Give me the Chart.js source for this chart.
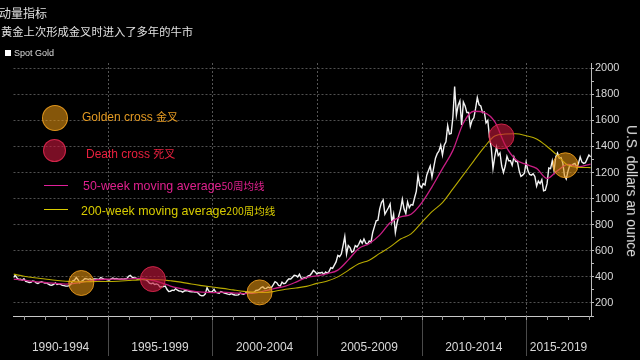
<!DOCTYPE html>
<html><head><meta charset="utf-8">
<script src="https://cdn.jsdelivr.net/npm/chart.js@4/dist/chart.umd.min.js"></script>
<style>
html,body{margin:0;padding:0;background:#000;}
#wrap{position:relative;width:640px;height:360px;overflow:hidden;background:#000;}
canvas{position:absolute;left:0;top:0;}
.t{position:absolute;white-space:nowrap;line-height:1;font-family:"Liberation Sans",Arial,sans-serif;}
.cjk{font-family:"Noto Sans CJK SC",sans-serif;}
.dot{position:absolute;border-radius:50%;box-sizing:border-box;}
.ln{position:absolute;height:0;width:24px;}
</style></head><body>
<div id="wrap">
<canvas id="c" width="640" height="360"></canvas>
<div class="t cjk" style="left:-1px;top:7px;font-size:12px;color:#e0e0e0">动量指标</div>
<div class="t cjk" style="left:1px;top:26px;font-size:11.3px;color:#e0e0e0">黄金上次形成金叉时进入了多年的牛市</div>
<div style="position:absolute;left:5px;top:50px;width:6px;height:6px;background:#fff"></div>
<div class="t" style="left:14px;top:49px;font-size:9px;color:#ddd">Spot Gold</div>

<div class="dot" style="left:41.5px;top:104.5px;width:26px;height:26px;background:rgba(230,148,18,0.58);border:1px solid rgba(240,160,30,0.85)"></div>
<div class="t" style="left:82px;top:111px;font-size:12px;color:#e49a22">Golden cross <span class="cjk" style="font-size:11px">金叉</span></div>
<div class="dot" style="left:42.5px;top:138.5px;width:23px;height:23px;background:rgba(195,22,60,0.62);border:1px solid rgba(225,40,80,0.85)"></div>
<div class="t" style="left:86px;top:148px;font-size:12px;color:#e8203e">Death cross <span class="cjk" style="font-size:11px">死叉</span></div>
<div class="ln" style="left:44px;top:185px;border-top:1px solid #e0209a"></div>
<div class="t" style="left:83px;top:180px;font-size:12.4px;color:#e0208e">50-week moving average<span class="cjk" style="font-size:10.5px">50周均线</span></div>
<div class="ln" style="left:44px;top:209px;border-top:1px solid #d8cc00"></div>
<div class="t" style="left:81px;top:204.5px;font-size:12.4px;color:#d8cc00">200-week moving average<span class="cjk" style="font-size:10.5px">200周均线</span></div>

<div class="t" style="left:631px;top:191px;font-size:13.8px;color:#e0e0e0;transform:translate(-50%,-50%) rotate(90deg)">U.S. dollars an ounce</div>
</div>
<script>
// ---- data ----
const priceStart = 1990.5;            // first monthly observation (Jul 1990)
const priceStep = 1 / 12;             // monthly
const spotGold = [
 395,412,392,380,382,375,
 385,365,362,357,358,368,366,354,350,358,362,358,
 352,354,344,338,336,342,354,342,346,343,335,333,
 329,329,333,345,370,375,395,378,355,366,375,387,
 385,381,386,375,384,385,383,380,395,389,383,381,
 377,376,384,391,384,387,384,382,384,383,386,387,
 405,412,397,392,391,384,385,386,381,380,377,368,
 352,348,352,342,346,340,322,324,325,330,305,288,
 290,298,296,310,298,292,291,283,292,295,293,288,
 286,287,283,285,275,260,255,256,270,318,292,283,
 287,305,283,278,274,287,281,276,272,268,265,272,
 265,261,260,262,275,270,266,274,287,280,275,278,
 283,296,297,304,318,323,310,312,322,316,320,340,
 363,355,334,330,360,348,352,372,385,383,397,413,
 410,400,420,390,388,395,392,408,412,428,450,438,
 422,432,430,435,418,437,428,442,470,465,490,515,
 565,555,575,640,710,575,640,625,590,598,640,630,
 650,680,658,690,660,650,675,665,740,785,830,835,
 920,970,990,880,905,930,960,820,880,740,815,870,
 920,995,920,885,975,930,955,950,1005,1055,1180,1100,
 1085,1115,1105,1180,1215,1250,1165,1240,1310,1345,1365,1410,
 1335,1410,1435,1560,1495,1500,1625,1860,1640,1715,1750,1565,
 1740,1710,1660,1660,1555,1600,1620,1690,1775,1720,1710,1660,
 1665,1580,1600,1470,1390,1230,1320,1395,1330,1350,1250,1200,
 1250,1325,1290,1290,1255,1320,1285,1285,1215,1170,1180,1195,
 1280,1215,1185,1180,1190,1170,1095,1135,1115,1145,1060,1065,
 1115,1235,1230,1290,1215,1320,1350,1310,1315,1275,1175,1150,
 1210,1255,1250,1265,1270,1240,1270,1320,1280,1270,1275,1305,
 1335,1320
];
const maDates = [1990.5,1991,1991.5,1992,1992.5,1993,1993.5,1994,1994.5,1995,1995.5,1996,1996.5,1997,1997.5,1998,1998.5,1999,1999.5,2000,2000.5,2001,2001.5,2002,2002.5,2003,2003.5,2004,2004.5,2005,2005.5,2006,2006.5,2007,2007.5,2008,2008.5,2009,2009.5,2010,2010.5,2011,2011.5,2012,2012.5,2013,2013.5,2014,2014.5,2015,2015.5,2016,2016.5,2017,2017.5,2018.08];
const ma50 = [383,375,364,357,350,345,352,366,378,382,383,384,388,378,358,330,310,292,283,280,283,278,272,275,292,312,330,360,395,408,425,452,530,618,655,720,815,860,880,965,1090,1230,1370,1580,1670,1660,1590,1410,1300,1262,1232,1155,1215,1262,1245,1265];
const ma200 = [421,405,393,384,374,367,362,363,365,365,367,372,377,380,378,370,360,345,333,322,312,300,289,283,280,290,305,315,327,350,368,400,450,500,528,580,630,690,730,815,900,970,1075,1182,1290,1395,1480,1495,1497,1482,1458,1400,1330,1255,1240,1238];
const crossDates  = [1993.74, 1997.16, 2002.26, 2013.82, 2016.88];
const crossValues = [353, 383, 281, 1477, 1256];
const crossKinds  = ['golden','death','golden','death','golden'];
const periodStarts = [1990, 1995, 2000, 2005, 2010, 2015];
const periodLabels = ['1990-1994','1995-1999','2000-2004','2005-2009','2010-2014','2015-2019'];
const yTickValues = [100,200,300,400,500,600,700,800,900,1000,1100,1200,1300,1400,1500,1600,1700,1800,1900,2000];
const yLabelled = [200,400,600,800,1000,1200,1400,1600,1800,2000];
const xMin = 1990.5, xMax = 2018.1, yMin = 100, yMax = 2040;

// ---- build ----
const pricePts = spotGold.map((v,i)=>({x: priceStart + i*priceStep, y: v}));
const ma50Pts = maDates.map((d,i)=>({x:d, y:ma50[i]}));
const ma200Pts = maDates.map((d,i)=>({x:d, y:ma200[i]}));
const crossPts = crossDates.map((d,i)=>({x:d, y:crossValues[i]}));
const crossFill = {golden:'rgba(230,148,18,0.58)', death:'rgba(195,22,60,0.62)'};
const crossLine = {golden:'rgba(240,160,30,0.85)', death:'rgba(225,40,80,0.85)'};
const labelCenters = periodStarts.map(s => (Math.max(s, xMin) + Math.min(s+5, xMax)) / 2);

const xDecor = {
  id:'xDecor',
  beforeDatasetsDraw(chart){
    const {ctx, chartArea:a, scales:{x}} = chart;
    ctx.save();
    ctx.strokeStyle = '#555'; ctx.lineWidth = 1; ctx.setLineDash([2,2]);
    periodStarts.forEach(s=>{
      if (s <= xMin) return;
      const px = Math.round(x.getPixelForValue(s)) + 0.5;
      ctx.beginPath(); ctx.moveTo(px, a.top); ctx.lineTo(px, a.bottom); ctx.stroke();
    });
    ctx.restore();
  },
  afterDraw(chart){
    const {ctx, chartArea:a, scales:{x}} = chart;
    ctx.save();
    ctx.lineWidth = 1;
    ctx.strokeStyle = '#4a4a4a';
    periodStarts.forEach(s=>{
      if (s <= xMin) return;
      const px = Math.round(x.getPixelForValue(s)) + 0.5;
      ctx.beginPath(); ctx.moveTo(px, a.bottom + 2); ctx.lineTo(px, 356); ctx.stroke();
    });
    ctx.strokeStyle = '#999';
    for (let yr = Math.ceil(xMin); yr <= xMax; yr++) {
      const px = Math.round(x.getPixelForValue(yr)) + 0.5;
      ctx.beginPath(); ctx.moveTo(px, a.bottom); ctx.lineTo(px, a.bottom + 4); ctx.stroke();
    }
    ctx.restore();
  }
};

new Chart(document.getElementById('c').getContext('2d'), {
  type:'line',
  data:{ datasets:[
    {label:'Crosses', type:'scatter', data:crossPts, order:0,
     pointRadius:12.5, pointHoverRadius:12.5, pointBorderWidth:1,
     backgroundColor: crossKinds.map(k=>crossFill[k]), borderColor: crossKinds.map(k=>crossLine[k])},
    {label:'200-week', data:ma200Pts, order:1, borderColor:'#b8aa00', borderWidth:1.1, pointRadius:0, cubicInterpolationMode:'monotone', fill:false},
    {label:'50-week', data:ma50Pts, order:2, borderColor:'#c81e84', borderWidth:1.3, pointRadius:0, cubicInterpolationMode:'monotone', fill:false},
    {label:'Spot Gold', data:pricePts, order:3, borderColor:'#f2f2f2', borderWidth:1.4, pointRadius:0, tension:0, fill:false}
  ]},
  options:{
    responsive:false, animation:false, events:[],
    layout:{padding:{top:63,left:0,right:0,bottom:0}},
    plugins:{legend:{display:false}, tooltip:{enabled:false}},
    scales:{
      x:{type:'linear', position:'bottom', min:xMin, max:xMax,
         grid:{display:false, drawTicks:false},
         border:{display:true, color:'#c8c8c8', width:1},
         afterBuildTicks(axis){ axis.ticks = labelCenters.map(v=>({value:v})); },
         afterFit(axis){ axis.height = 360 - 316; },
         ticks:{autoSkip:false, maxRotation:0, padding:24, color:'#d8d8d8',
                font:{family:'"Liberation Sans", Arial', size:12},
                callback(v, i){ return periodLabels[i]; }}
      },
      y:{type:'linear', position:'right', min:yMin, max:yMax,
         afterBuildTicks(axis){ axis.ticks = yTickValues.map(v=>({value:v})); },
         afterFit(axis){ axis.width = 640 - 591; },
         grid:{color(c){ return (c.tick && yLabelled.includes(c.tick.value)) ? '#505050' : 'rgba(0,0,0,0)'; },
               tickColor:'#bbb', tickLength:3, lineWidth:1},
         border:{display:true, color:'#bbb', width:1, dash:[2,2]},
         ticks:{autoSkip:false, padding:1, color:'#d8d8d8', font:{family:'"Liberation Sans", Arial', size:11},
                callback(v){ return yLabelled.includes(v) ? String(v) : ''; }}
      }
    }
  },
  plugins:[xDecor]
});
</script>
</body></html>
